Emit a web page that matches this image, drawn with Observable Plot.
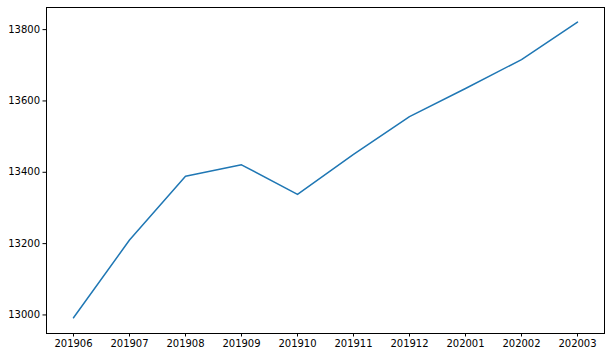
<!DOCTYPE html>
<html>
<head>
<meta charset="utf-8">
<script src="https://cdn.jsdelivr.net/npm/d3@7"></script>
<script src="https://cdn.jsdelivr.net/npm/@observablehq/plot@0.6"></script>
<style>
  html, body { margin: 0; padding: 0; background: #fff; }
  svg { display: block; }
</style>
</head>
<body>
<div id="chart"></div>
<script>
const months = ["201906","201907","201908","201909","201910","201911","201912","202001","202002","202003"];
const values = [12992, 13210, 13389, 13421, 13338, 13450, 13556, 13635, 13716, 13821];
const yTicks = [13000, 13200, 13400, 13600, 13800];

const data = months.map((m, i) => ({month: m, value: values[i]}));

const chart = Plot.plot({
  width: 610,
  height: 357,
  marginLeft: 46,
  marginRight: 6,
  marginTop: 7,
  marginBottom: 24,
  style: {fontFamily: "DejaVu Sans", fontSize: "10px", color: "#000", background: "#fff"},
  x: {type: "point", domain: months, padding: 0.455, label: null},
  y: {domain: [12948, 13862], label: null},
  marks: [
    Plot.axisX({ticks: months, tickSize: 3.5, tickPadding: 3, stroke: "#000", fill: "#000", label: null}),
    Plot.axisY({ticks: yTicks, tickSize: 3.5, tickPadding: 3, stroke: "#000", fill: "#000", label: null, tickFormat: d => String(d)}),
    Plot.line(data, {x: "month", y: "value", stroke: "#1f77b4", strokeWidth: 1.5}),
    Plot.frame({stroke: "#000", strokeWidth: 1})
  ]
});
document.getElementById("chart").appendChild(chart);
</script>
</body>
</html>
